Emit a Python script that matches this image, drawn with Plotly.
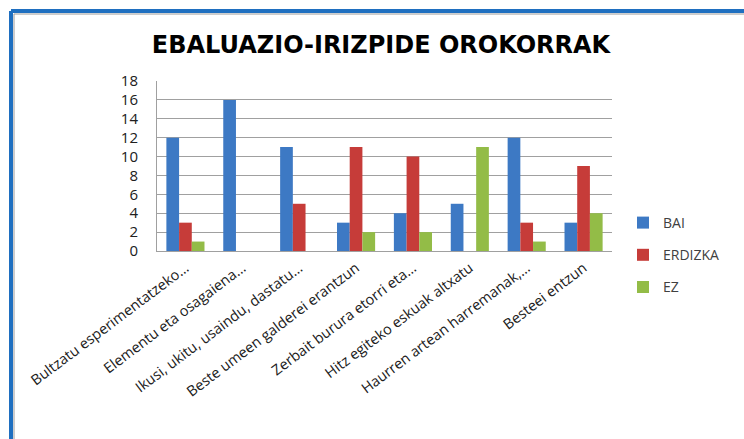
import plotly.graph_objects as go

categories = [
    "Bultzatu esperimentatzeko…",
    "Elementu eta osagaiena…",
    "Ikusi, ukitu, usaindu, dastatu…",
    "Beste umeen galderei erantzun",
    "Zerbait burura etorri eta…",
    "Hitz egiteko eskuak altxatu",
    "Haurren artean harremanak,…",
    "Besteei entzun",
]
bai = [12, 16, 11, 3, 4, 5, 12, 3]
erdizka = [3, 0, 5, 11, 10, 0, 3, 9]
ez = [1, 0, 0, 2, 2, 11, 1, 4]
series_names = ["BAI", "ERDIZKA", "EZ"]
series_values = [bai, erdizka, ez]
colors = ["#3D79C4", "#C63C39", "#93BC47"]

W, H = 744, 439
L, R, T, B = 157, 612, 81, 251  # plot area in pixels

def px(x):
    return (x - L) / (R - L)

def py(y):
    return (B - y) / (B - T)

fig = go.Figure()
for i, (name, vals) in enumerate(zip(series_names, series_values)):
    fig.add_trace(go.Bar(
        x=categories, y=vals, name=name,
        marker=dict(color=colors[i], line=dict(width=0)),
        legendgroup=name,
    ))

font_fam = "Open Sans, DejaVu Sans, sans-serif"
fig.update_layout(
    width=W, height=H,
    margin=dict(l=L, r=W - R, t=T, b=H - B, autoexpand=False),
    paper_bgcolor="white", plot_bgcolor="white",
    barmode="group", bargap=0.33, bargroupgap=0,
    title=dict(text="<b>EBALUAZIO-IRIZPIDE OROKORRAK</b>",
               x=381 / W, xanchor="center", y=1 - 45 / H, yanchor="middle",
               font=dict(family="DejaVu Sans, sans-serif", size=24, color="black")),
    font=dict(family=font_fam, size=13, color="#404040"),
    showlegend=True,
    legend=dict(x=px(623), xanchor="left", y=py(207), yanchor="top",
                tracegroupgap=11, font=dict(size=14, color="#404040"),
                bgcolor="rgba(0,0,0,0)", itemwidth=30),
    yaxis=dict(range=[0, 18], dtick=2, showgrid=True, gridcolor="#A0A0A0",
               gridwidth=1, showline=True, linecolor="#A0A0A0", linewidth=1,
               ticks="", tickfont=dict(size=15, color="#202020"), zeroline=False,
               automargin=False, ticklabelstandoff=15),
    xaxis=dict(showline=True, linecolor="#A0A0A0", linewidth=1, ticks="",
               tickangle=-37, tickfont=dict(size=14.5, color="#202020"),
               automargin=False, ticklabelstandoff=2),
    shapes=[
        dict(type="line", xref="paper", yref="paper", x0=px(11), x1=px(744),
             y0=py(11), y1=py(11), line=dict(color="#1F6FC0", width=4)),
        dict(type="line", xref="paper", yref="paper", x0=px(11), x1=px(11),
             y0=py(11), y1=py(439), line=dict(color="#1F6FC0", width=4)),
        dict(type="line", xref="paper", yref="paper", x0=px(14), x1=px(744),
             y0=py(14), y1=py(14), line=dict(color="#9A9A9A", width=1)),
        dict(type="line", xref="paper", yref="paper", x0=px(14), x1=px(14),
             y0=py(14), y1=py(439), line=dict(color="#9A9A9A", width=1)),
    ],
)
fig.write_html("out.html", config={"displayModeBar": False},
               post_script="document.body.style.margin='0';")
